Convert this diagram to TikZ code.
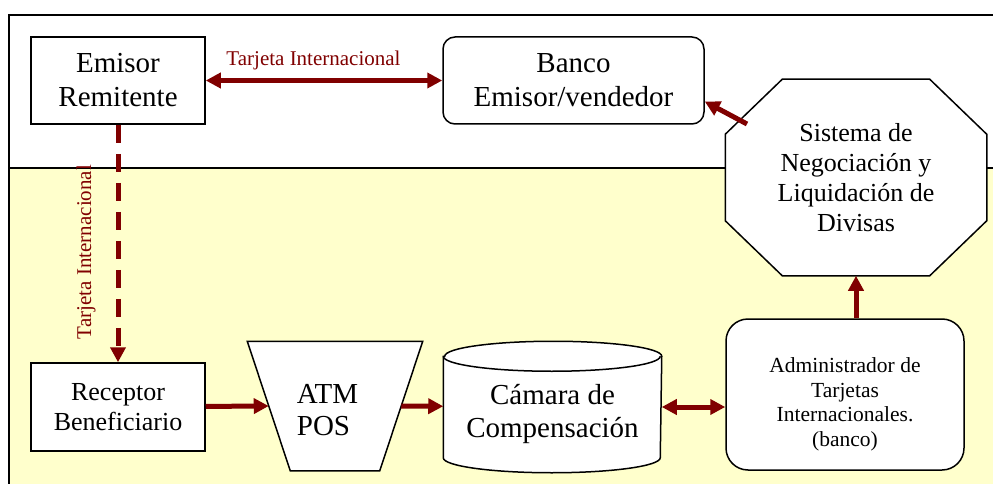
\documentclass[tikz,border=0pt]{standalone}
\usepackage{fontspec}
\setmainfont{Liberation Serif}
\usetikzlibrary{arrows.meta,calc}
\definecolor{darkred}{RGB}{128,0,0}
\definecolor{paleyellow}{RGB}{255,255,204}

\begin{document}
\begin{tikzpicture}[x=1pt,y=-1pt,line width=1.5pt,
		box/.style={draw,fill=white,minimum width=174pt,minimum height=87pt,align=center,font=\fontsize{29}{34}\selectfont},
		arr/.style={draw=darkred,line width=5pt,-{Triangle[length=15pt,width=15pt]}},
		darr/.style={arr,{Triangle[length=15pt,width=15pt]}-{Triangle[length=15pt,width=15pt]}},
		lbl/.style={text=darkred,font=\fontsize{21}{24}\selectfont,inner sep=0pt}]
	\useasboundingbox (0,0) rectangle (993,484);
	\fill[paleyellow] (9,168) rectangle (993,484);
	\draw (9,484) -- (9,15) -- (993,15);
	\draw (9,168) -- (993,168);

	\node[box] (emisor) at (118,80.5) {Emisor\\Remitente};
	\node[box,rounded corners=12pt,minimum width=261pt] (banco) at (573.5,80.5) {Banco\\Emisor/vendedor};
	% octagon
	\node[minimum width=260pt,minimum height=195pt] (sistema) at (856,177.5) {};
	\draw[fill=white] ([xshift=57pt]sistema.north west) -- ([xshift=-57pt]sistema.north east) -- ([yshift=-55pt]sistema.north east)
		-- ([yshift=55pt]sistema.south east) -- ([xshift=-57pt]sistema.south east) -- ([xshift=57pt]sistema.south west)
		-- ([yshift=55pt]sistema.south west) -- ([yshift=-55pt]sistema.north west) -- cycle;
	\node[font=\fontsize{26}{30}\selectfont,align=center] (sistxt) at (sistema.center) {Sistema de\\Negociación y\\Liquidación de\\Divisas};
	\node[box,minimum height=88pt,font=\fontsize{26}{30}\selectfont] (receptor) at (118,407) {Receptor\\Beneficiario};
	% trapezoid
	\node[minimum width=174pt,minimum height=128pt] (atm) at (335,406) {};
	\draw[fill=white] (atm.north west) -- (atm.north east) -- ([xshift=-43pt]atm.south east) -- ([xshift=43pt]atm.south west) -- cycle;
	\coordinate (atmin) at ($(atm.north west)!0.5!([xshift=43pt]atm.south west)$);
	\coordinate (atmout) at ($(atm.north east)!0.5!([xshift=-43pt]atm.south east)$);
	\node[font=\fontsize{29}{32}\selectfont,align=left] (atmtxt) at (327.5,410) {ATM\\POS};
	% cylinder
	\node[minimum width=217pt,minimum height=130pt] (camara) at (552.5,407) {};
	\draw[fill=white] ([yshift=-15pt]camara.north west) -- ([yshift=15pt]camara.south west)
		arc[start angle=180,end angle=360,x radius=108.5pt,y radius=15pt] -- ([yshift=-15pt]camara.north east)
		arc[start angle=0,end angle=180,x radius=108.5pt,y radius=15pt] -- cycle;
	\draw ([yshift=-15pt]camara.north west) arc[start angle=180,end angle=360,x radius=108.5pt,y radius=15pt];
	\node[font=\fontsize{29}{33}\selectfont,align=center] (camtxt) at ([yshift=-7pt]camara.center) {Cámara de\\Compensación};
	\node[box,rounded corners=22pt,minimum width=238pt,minimum height=151pt,
		label={[name=admintxt,font=\fontsize{21.5}{24.5}\selectfont,align=center,yshift=-10pt]center:{Administrador de\\Tarjetas\\Internacionales.\\(banco)}}] (admin) at (845,394.5) {};

	\draw[darr] (emisor) -- (banco);
	\node[lbl] (tarjeta1) at (313.5,60) {Tarjeta Internacional};
	\draw[arr,dash pattern=on 18pt off 11pt] (emisor) -- (receptor);
	\node[lbl,rotate=90] (tarjeta2) at (86,252) {Tarjeta Internacional};
	\draw[arr] (receptor) -- (atmin);
	\draw[arr] (atmout) -- (camara);
	\draw[darr] (camara.east) -- (camara.east -| admin.west);
	\draw[arr] (admin.north -| sistema.south) -- (sistema.south);
	\coordinate (sistail) at (747,124);
	\draw[arr] (sistail) -- ([yshift=-21pt]banco.east);
\end{tikzpicture}
\end{document}
